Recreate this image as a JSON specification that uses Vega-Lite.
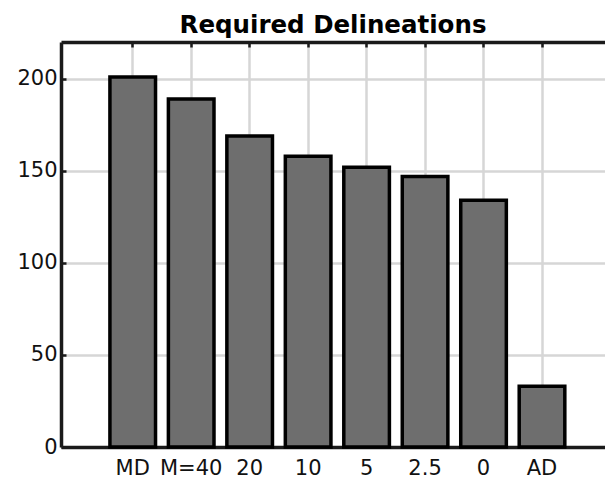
{
  "$schema": "https://vega.github.io/schema/vega-lite/v6.json",
  "width": 544,
  "height": 405,
  "autosize": {"type": "none"},
  "padding": {"left": 61, "top": 42, "right": 0, "bottom": 35},
  "background": "white",
  "config": {
    "view": {"stroke": null},
    "font": "DejaVu Sans"
  },
  "title": {
    "text": "Required Delineations",
    "font": "DejaVu Sans",
    "fontSize": 24.5,
    "fontWeight": "bold",
    "color": "#000000",
    "anchor": "middle",
    "baseline": "alphabetic",
    "offset": -17
  },
  "data": {
    "values": [
      {"label": "MD", "count": 201},
      {"label": "M=40", "count": 189},
      {"label": "20", "count": 169},
      {"label": "10", "count": 158},
      {"label": "5", "count": 152},
      {"label": "2.5", "count": 147},
      {"label": "0", "count": 134},
      {"label": "AD", "count": 33}
    ]
  },
  "resolve": {"axis": {"x": "independent"}},
  "layer": [
    {
      "mark": {"type": "bar", "fill": "#6e6e6e", "stroke": "#000000", "strokeWidth": 3.5},
      "encoding": {
        "x": {
          "field": "label",
          "type": "nominal",
          "sort": null,
          "scale": {"paddingInner": 0.22, "paddingOuter": 0.762, "align": 0.549},
          "axis": {
            "orient": "bottom",
            "title": null,
            "grid": true,
            "gridColor": "#d6d6d6",
            "gridWidth": 2.5,
            "domain": true,
            "domainColor": "#1a1a1a",
            "domainWidth": 3.5,
            "ticks": true,
            "tickColor": "#1a1a1a",
            "tickWidth": 2.5,
            "tickSize": -5,
            "labelAngle": 0,
            "labelFont": "DejaVu Sans",
            "labelFontSize": 21,
            "labelColor": "#111111",
            "labelPadding": 15,
            "labelBaseline": "top",
            "zindex": 0
          }
        },
        "y": {
          "field": "count",
          "type": "quantitative",
          "scale": {"domain": [0, 220], "nice": false},
          "axis": {
            "orient": "left",
            "title": null,
            "values": [0, 50, 100, 150, 200],
            "grid": true,
            "gridColor": "#d6d6d6",
            "gridWidth": 2.5,
            "domain": true,
            "domainColor": "#1a1a1a",
            "domainWidth": 3.5,
            "ticks": true,
            "tickColor": "#1a1a1a",
            "tickWidth": 2.5,
            "tickSize": -5,
            "labelFont": "DejaVu Sans",
            "labelFontSize": 21,
            "labelColor": "#111111",
            "labelPadding": 9,
            "labelBaseline": "middle",
            "zindex": 0
          }
        }
      }
    },
    {
      "mark": {"type": "rule", "strokeOpacity": 0},
      "encoding": {
        "x": {
          "field": "label",
          "type": "nominal",
          "sort": null,
          "axis": {
            "orient": "top",
            "title": null,
            "grid": false,
            "labels": false,
            "domain": true,
            "domainColor": "#1a1a1a",
            "domainWidth": 3.5,
            "ticks": true,
            "tickColor": "#1a1a1a",
            "tickWidth": 2.5,
            "tickSize": -5,
            "zindex": 1
          }
        }
      }
    }
  ]
}
